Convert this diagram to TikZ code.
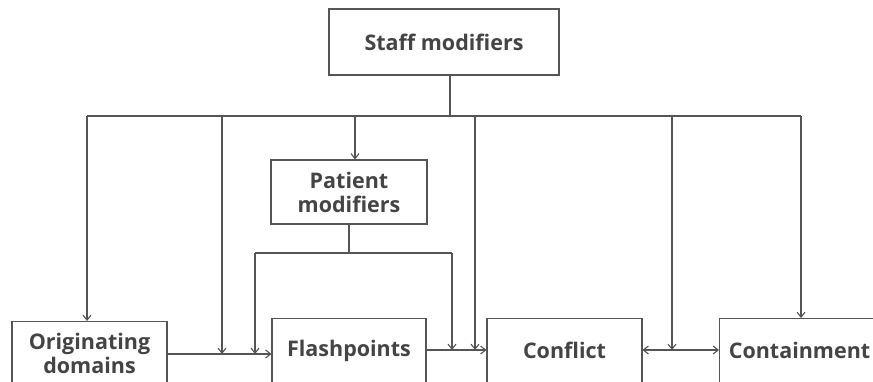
\documentclass[tikz,border=0pt]{standalone}
\usepackage{fontspec}
\setmainfont{Open Sans}
\usetikzlibrary{arrows.meta}
\definecolor{ln}{HTML}{555555}
\definecolor{tx}{HTML}{444444}
\begin{document}
\begin{tikzpicture}[x=1pt,y=-1pt,
  box/.style={draw=ln,line width=1.1pt,fill=white,inner sep=0pt,align=center,
    text=tx,font=\fontsize{21.5}{24}\selectfont\bfseries},
  conn/.style={draw=ln,line width=1.1pt},
  arr/.style={conn,-{Straight Barb[length=5pt,width=8pt]}},
  darr/.style={conn,{Straight Barb[length=5pt,width=8pt]}-{Straight Barb[length=5pt,width=8pt]}}]
\clip (0,0) rectangle (873,382);
\fill[white] (0,0) rectangle (873,382);
% nodes
\node[box,minimum width=230,minimum height=66] (staff) at (444,42) {Staff modifiers};
\node[box,minimum width=156,minimum height=64] (patient) at (349,192) {Patient\\modifiers};
\node[box,minimum width=155,minimum height=64,anchor=north] (orig) at (89.5,321) {Originating\\domains};
\node[box,minimum width=154,minimum height=64,anchor=north] (flash) at (349,318) {Flashpoints};
\node[box,minimum width=155,minimum height=64,anchor=north] (conf) at (564.5,318) {Conflict};
\node[box,minimum width=160,minimum height=64,anchor=north west] (cont) at (719,318) {Containment};
% coordinates
\coordinate (sj) at (450,116);
\coordinate (bl) at (87,116);
\coordinate (br) at (801,116);
\coordinate (b1) at (222,116);
\coordinate (b2) at (355,116);
\coordinate (b3) at (475,116);
\coordinate (b4) at (672,116);
\coordinate (pj) at (349,253);
\coordinate (p1) at (255,253);
\coordinate (p2) at (452,253);
\coordinate (e1) at (222,354);
\coordinate (e2) at (255,354);
\coordinate (e3) at (452,350);
\coordinate (e4) at (475,350);
\coordinate (e5) at (672,350);
% staff bus
\draw[conn] (staff.south -| sj) -- (sj);
\draw[conn] (bl) -- (br);
\draw[arr] (bl) -- (bl |- orig.north);
\draw[arr] (b1) -- (e1);
\draw[arr] (b2) -- (b2 |- patient.north);
\draw[arr] (b3) -- (e4);
\draw[arr] (b4) -- (e5);
\draw[arr] (br) -- (br |- cont.north);
% patient bus
\draw[conn] (patient.south) -- (pj);
\draw[conn] (p1) -- (p2);
\draw[arr] (p1) -- (e2);
\draw[arr] (p2) -- (e3);
% horizontal flow
\draw[arr] (orig.east |- e1) -- (flash.west |- e1);
\draw[arr] (flash.east |- e4) -- (conf.west |- e4);
\draw[darr] (conf.east |- e5) -- (cont.west |- e5);
\end{tikzpicture}
\end{document}
